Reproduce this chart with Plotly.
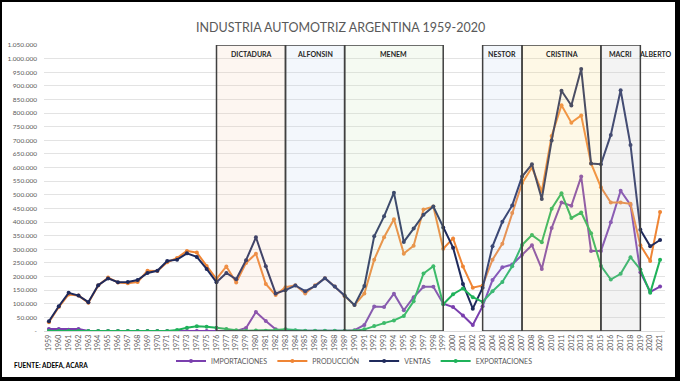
import plotly.graph_objects as go

years = list(range(1959, 2022))

ventas = [36, 91, 140, 130, 106, 168, 193, 179, 180, 187,
          213, 221, 257, 262, 285, 272, 228, 179, 213, 190,
          260, 344, 238, 138, 150, 167, 146, 165, 194, 163,
          130, 95, 165, 348, 421, 508, 327, 376, 427, 457,
          380, 306, 173, 82, 159, 311, 401, 461, 567, 612,
          485, 699, 882, 828, 962, 615, 612, 720, 884, 683,
          372, 311, 334]
produccion = [32, 88, 134, 130, 104, 167, 196, 178, 175, 180,
              221, 220, 252, 268, 294, 288, 239, 191, 237, 178,
              250, 284, 173, 132, 161, 168, 138, 168, 194, 163,
              128, 95, 138, 262, 344, 410, 284, 313, 446, 457,
              302, 340, 237, 159, 167, 262, 320, 433, 543, 600,
              513, 716, 829, 765, 791, 615, 528, 472, 472, 467,
              315, 257, 437]
importaciones = [7, 7, 5, 7, 0, 0, 0, 0, 0, 0,
                 0, 0, 0, 0, 0, 0, 0, 0, 0, 0,
                 11, 70, 37, 6, 1, 1, 0, 0, 0, 0,
                 1, 3, 22, 90, 88, 137, 76, 124, 162, 162,
                 100, 88, 57, 22, 91, 187, 234, 244, 280, 315,
                 228, 378, 472, 460, 567, 294, 294, 399, 515, 463,
                 216, 144, 163]
exportaciones = [0, 0, 0, 0, 0, 0, 0, 0, 0, 0,
                 0, 0, 0, 4, 12, 17, 16, 12, 7, 3,
                 1, 2, 1, 4, 6, 3, 1, 1, 1, 1,
                 1, 1, 6, 18, 29, 39, 55, 109, 211, 238,
                 98, 135, 156, 124, 107, 146, 180, 238, 316, 352,
                 326, 449, 506, 415, 435, 359, 239, 189, 210, 271,
                 226, 140, 262]

periods = ["DICTADURA", "ALFONSIN", "MENEM", "NESTOR", "CRISTINA", "MACRI"]
period_start = [1976, 1983, 1989, 2003, 2007, 2015]
period_end = [1983, 1989, 1999, 2007, 2015, 2019]
period_fill = ["rgba(240,200,170,0.16)", "rgba(190,210,240,0.18)", "rgba(200,228,185,0.18)",
               "rgba(190,210,240,0.18)", "rgba(250,220,130,0.2)", "rgba(200,200,200,0.22)"]

ytickvals = list(range(0, 1050001, 50000))
yticktext = ["-"] + [f"{v:,}".replace(",", ".") for v in ytickvals[1:]]

series = [
    ("IMPORTACIONES", importaciones, "#7a3fae"),
    ("PRODUCCIÓN", produccion, "#ef8535"),
    ("VENTAS", ventas, "#1f2a5c"),
    ("EXPORTACIONES", exportaciones, "#1fb25a"),
]

fig = go.Figure()
for name, vals, col in series:
    fig.add_trace(go.Scatter(
        x=years, y=[v * 1000 for v in vals], name=name, mode="lines+markers",
        line=dict(color=col, width=2), marker=dict(color=col, size=4),
    ))

W, H = 680, 381
L, R, T, B = 44, 15, 45, 50
pw, ph = W - L - R, H - T - B


def px(xp):
    return (xp - L) / pw


def py(yp):
    return (H - B - yp) / ph


shapes = []
for s, e, f in zip(period_start, period_end, period_fill):
    shapes.append(dict(type="rect", xref="x", yref="y", x0=s, x1=e, y0=0, y1=1050000,
                       fillcolor=f, line=dict(color="#404040", width=1.5), layer="above"))

# black outer frame
for x0, x1, y0, y1 in [(0, 2, 0, H), (675, W, 0, H), (0, W, 0, 2), (0, W, 377, H)]:
    shapes.append(dict(type="rect", xref="paper", yref="paper",
                       x0=px(x0), x1=px(x1), y0=py(y1), y1=py(y0),
                       fillcolor="black", line=dict(width=0)))

annotations = []
for name, s, e in zip(periods, period_start, period_end):
    annotations.append(dict(x=(s + e) / 2, y=1018000, xref="x", yref="y", text=f"<b>{name}</b>",
                            showarrow=False, font=dict(size=7, color="#262626", family="Lato")))
annotations.append(dict(x=2020.5, y=1018000, xref="x", yref="y", text="<b>ALBERTO</b>",
                        showarrow=False, font=dict(size=7, color="#262626", family="Lato")))
annotations.append(dict(x=px(12), y=py(372), xref="paper", yref="paper", xanchor="left",
                        text="<b>FUENTE: ADEFA, ACARA</b>", showarrow=False,
                        font=dict(size=6.5, color="#000000", family="Lato")))
annotations.append(dict(x=px(340), y=py(27), xref="paper", yref="paper", xanchor="center",
                        yanchor="middle", text="INDUSTRIA AUTOMOTRIZ ARGENTINA 1959-2020",
                        showarrow=False, font=dict(size=12.5, color="#595959", family="Lato")))

fig.update_layout(
    width=W, height=H, margin=dict(l=L, r=R, t=T, b=B, autoexpand=False),
    paper_bgcolor="white", plot_bgcolor="white",
    font=dict(family="Lato", color="#595959"),
    shapes=shapes, annotations=annotations,
    legend=dict(orientation="h", x=0.5, xanchor="center", y=py(361), yanchor="middle",
                font=dict(size=7, color="#595959"), itemwidth=30, bgcolor="rgba(0,0,0,0)"),
    showlegend=True,
)
fig.update_xaxes(range=[1958.5, 2021.5], tickmode="array", tickvals=years,
                 ticktext=[str(y) for y in years], tickangle=-90, automargin=False,
                 tickfont=dict(size=7, color="#595959"), showgrid=False, zeroline=False,
                 showline=True, linecolor="#d9d9d9", ticks="", fixedrange=True)
fig.update_yaxes(range=[0, 1050000], tickmode="array", tickvals=ytickvals, ticktext=yticktext,
                 tickfont=dict(size=6.5, color="#595959"), showgrid=True, gridcolor="#e3e3e3",
                 gridwidth=1, zeroline=False, showline=False, ticks="", automargin=False,
                 ticklabelstandoff=6)

fig.write_html("out.html", config={"displayModeBar": False},
               post_script="document.body.style.margin='0';document.body.style.overflow='hidden';")
